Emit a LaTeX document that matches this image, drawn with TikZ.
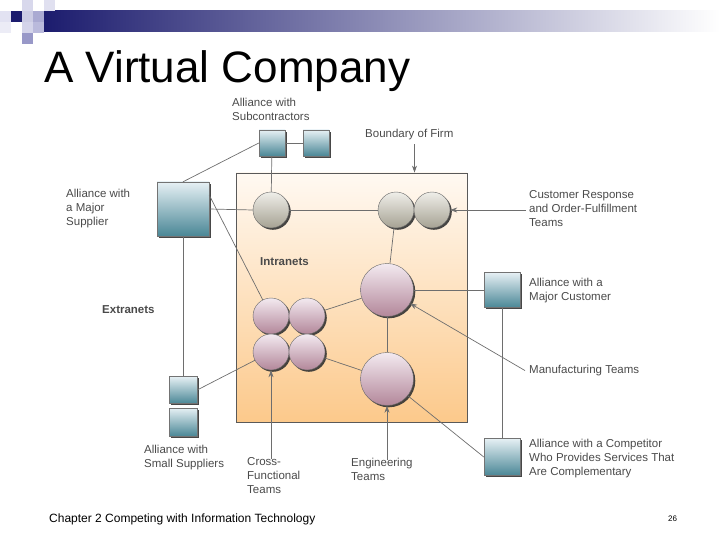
\documentclass[tikz,border=0pt]{standalone}
\usepackage{fontspec}
\setmainfont{Liberation Sans}
\usetikzlibrary{arrows.meta,shadows}

\definecolor{linegray}{HTML}{6E6E6E}
\definecolor{textgray}{HTML}{4A4A4A}
\definecolor{boxtop}{HTML}{E6F0F4}
\definecolor{boxbot}{HTML}{4A8796}
\definecolor{circtop}{HTML}{EFEEE9}
\definecolor{circbot}{HTML}{A6A293}
\definecolor{pinktop}{HTML}{F3EAF0}
\definecolor{pinkbot}{HTML}{B3879A}
\definecolor{firmtop}{HTML}{FFF9F2}
\definecolor{firmbot}{HTML}{FCC98B}
\definecolor{navy}{HTML}{1C1C6E}

\begin{document}
\begin{tikzpicture}[x=1pt,y=1pt,yscale=-1,xscale=1,
  shade/.style={drop shadow={shadow xshift=1.8pt,shadow yshift=-1.8pt,fill=black!80,opacity=0.9}},
  firmbox/.style={draw=black!65, line width=0.8pt, top color=firmtop, bottom color=firmbot, inner sep=0pt},
  allybox/.style={shade, draw=black!55, line width=0.4pt, top color=boxtop, bottom color=boxbot, inner sep=0pt},
  team/.style={shade, circle, draw=black!60, line width=0.4pt, inner sep=0pt, minimum size=36pt},
  greyteam/.style={team, top color=circtop, bottom color=circbot},
  pinkteam/.style={team, top color=pinktop, bottom color=pinkbot},
  bigteam/.style={pinkteam, minimum size=53pt},
  link/.style={draw=linegray, line width=0.7pt},
  pointer/.style={link, -{Stealth[length=7pt,width=5pt]}},
  lbl/.style={anchor=north west, inner sep=0pt, align=left, text=textgray, font=\fontsize{11.5}{14}\selectfont},
  boldlbl/.style={lbl, font=\fontsize{11.5}{14}\selectfont\bfseries}
]
\useasboundingbox (0,0) rectangle (720,540);

%Header bar
\fill [left color=navy, right color=white] (44,11) rectangle (720,32);
\fill [color={rgb,255:red,216;green,216;blue,236}] (22,0) rectangle (33,11);
\fill [color={rgb,255:red,224;green,224;blue,240}] (44,0) rectangle (55,11);
\fill [color={rgb,255:red,226;green,226;blue,242}] (0,11) rectangle (11,22);
\fill [color=navy] (11,11) rectangle (22,22);
\fill [color={rgb,255:red,204;green,204;blue,228}] (22,11) rectangle (33,22);
\fill [color={rgb,255:red,170;green,170;blue,210}] (33,11) rectangle (44,22);
\fill [color={rgb,255:red,236;green,236;blue,246}] (0,22) rectangle (11,33);
\fill [color={rgb,255:red,212;green,212;blue,234}] (22,22) rectangle (33,33);
\fill [color={rgb,255:red,186;green,186;blue,220}] (33,22) rectangle (44,33);
\fill [color={rgb,255:red,152;green,152;blue,200}] (22,33) rectangle (33,44);

% Title
\node [anchor=base west, inner sep=0pt, font=\fontsize{44}{44}\selectfont] (title) at (44,83) {A Virtual Company};

%Boundary of firm
\node [firmbox, minimum width=231pt, minimum height=249pt] (firm) at (351.5,297.5) {};

%Alliance boxes
\node [allybox, minimum width=26pt, minimum height=26pt] (subA) at (272,143) {};
\node [allybox, minimum width=26pt, minimum height=26pt] (subB) at (316,143) {};
\node [allybox, minimum width=52pt, minimum height=54pt] (supplier) at (183,209) {};
\node [allybox, minimum width=28pt, minimum height=27pt] (smallA) at (183,390) {};
\node [allybox, minimum width=28pt, minimum height=28pt] (smallB) at (183,422) {};
\node [allybox, minimum width=36pt, minimum height=35pt] (customer) at (502,290) {};
\node [allybox, minimum width=36pt, minimum height=37pt] (competitor) at (502,457) {};

%Teams
\node [greyteam] (g1) at (271,210) {};
\node [greyteam] (g2) at (396,210) {};
\node [greyteam] (g3) at (432,210) {};
\node [bigteam] (mfg) at (387,290) {};
\node [bigteam] (eng) at (387,379) {};
\node [pinkteam] (x1) at (271,316) {};
\node [pinkteam] (x2) at (307,316) {};
\node [pinkteam] (x3) at (271,352) {};
\node [pinkteam] (x4) at (307,352) {};

%Links
\draw [link] (subA) -- (subB);
\draw [link] (subA) -- (g1);
\draw [link] (subA.west) -- (supplier.north);
\draw [link] (supplier.east) -- (g1.west);
\draw [link] (g1.east) -- (g2.west);
\draw [link] ([yshift=-14pt]supplier.east) -- (x1);
\draw [link] (supplier.south) -- (smallA.north);
\draw [link] (smallA.east) -- (x3);
\draw [link] (g2) -- (mfg);
\draw [link] (x2) -- (mfg);
\draw [link] (x4) -- (eng);
\draw [link] (mfg) -- (eng);
\draw [link] (mfg.east) -- (customer.west);
\draw [link] (customer.south) -- (competitor.north);
\draw [link] (competitor.west) -- (eng);

% Text Node
\node [lbl] (subLbl) at (232,98) {Alliance with\\Subcontractors};
\node [lbl] (supLbl) at (66,189) {Alliance with\\a Major\\Supplier};
\node [lbl] (crLbl) at (529,190) {Customer Response\\and Order-Fulfillment\\Teams};
\node [lbl] (custLbl) at (529,278) {Alliance with a\\Major Customer};
\node [lbl] (mfgLbl) at (529,365) {Manufacturing Teams};
\node [lbl] (compLbl) at (529,439) {Alliance with a Competitor\\Who Provides Services That\\Are Complementary};
\node [lbl] (smallLbl) at (144,445) {Alliance with\\Small Suppliers};
\node [lbl] (cftLbl) at (247,457) {Cross-\\Functional\\Teams};
\node [lbl] (engLbl) at (351,458) {Engineering\\Teams};
\node [lbl] (bndLbl) at (365,129) {Boundary of Firm};
\node [boldlbl] (extLbl) at (102,305) {Extranets};
\node [boldlbl] (intLbl) at (260,257) {Intranets};

%Pointers
\draw [pointer] (bndLbl.south -| firm.north) ++(63,4) coordinate (bndTop) -- (bndTop |- firm.north);
\draw [pointer] ([xshift=-3pt]crLbl.west |- g3.east) -- (g3.east);
\draw [pointer] ([xshift=-4pt]mfgLbl.west) -- (mfg);
\draw [pointer] ([yshift=2pt]cftLbl.north -| x3) -- (x3.south);
\draw [pointer] ([yshift=2pt]engLbl.north -| eng) -- (eng.south);

% Footer
\node [anchor=base west, inner sep=0pt, font=\fontsize{12}{14}\selectfont] (chapter) at (49,522) {Chapter 2 Competing with Information Technology};
\node [anchor=base west, inner sep=0pt, font=\fontsize{8}{10}\selectfont] (page) at (668,521) {26};

\end{tikzpicture}
\end{document}
